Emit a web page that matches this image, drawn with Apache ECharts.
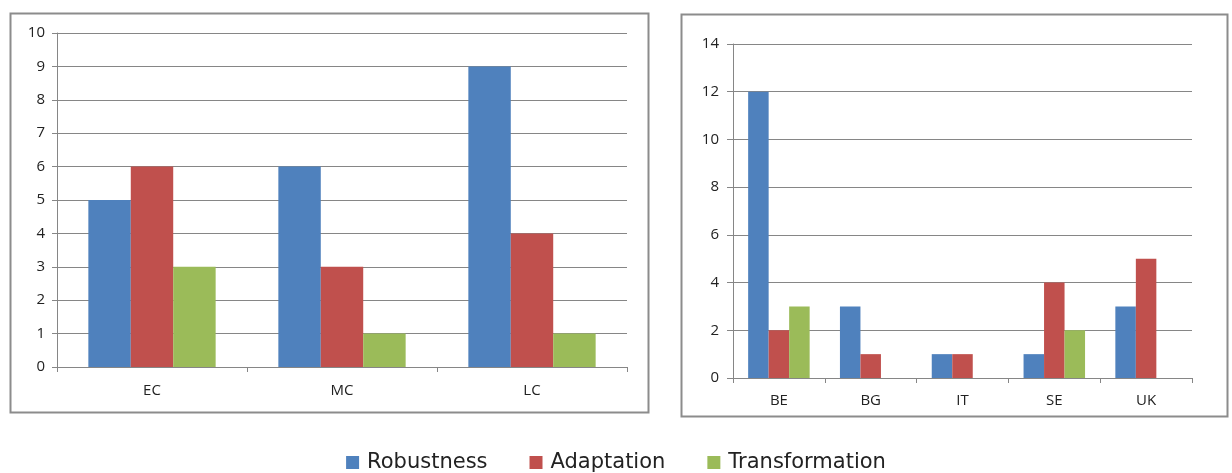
<!DOCTYPE html>
<html>
<head>
<meta charset="utf-8">
<script src="https://cdn.jsdelivr.net/npm/echarts@6/dist/echarts.min.js"></script>
<style>
  html, body { margin: 0; padding: 0; background: #fff; }
  #chart { width: 1232px; height: 473px; }
</style>
</head>
<body>
<div id="chart"></div>
<script>
const seriesNames = ['Robustness', 'Adaptation', 'Transformation']
const colors = ['#4F81BD', '#C0504D', '#9BBB59']

// left panel: by stage
const stageCategories = ['EC', 'MC', 'LC']
const stageRobustness = [5, 6, 9]
const stageAdaptation = [6, 3, 4]
const stageTransformation = [3, 1, 1]

// right panel: by country
const countryCategories = ['BE', 'BG', 'IT', 'SE', 'UK']
const countryRobustness = [12, 3, 1, 1, 3]
const countryAdaptation = [2, 1, 1, 4, 5]
const countryTransformation = [3, '-', '-', 2, '-']

const axisGray = '#868686'
const labelFont = { color: '#222', fontSize: 15, fontFamily: 'Open Sans' }

const chart = echarts.init(document.getElementById('chart'))

function catAxis(gridIndex, data, margin) {
  return {
    type: 'category',
    gridIndex,
    data,
    axisLine: { lineStyle: { color: axisGray } },
    axisTick: { show: true, length: 5, lineStyle: { color: axisGray } },
    axisLabel: { ...labelFont, margin }
  }
}

function valAxis(gridIndex, max, interval, tickLen, margin) {
  return {
    type: 'value',
    gridIndex,
    min: 0,
    max,
    interval,
    axisLine: { show: true, lineStyle: { color: axisGray } },
    axisTick: { show: true, length: tickLen, lineStyle: { color: axisGray } },
    axisLabel: { ...labelFont, margin },
    splitLine: { lineStyle: { color: axisGray } }
  }
}

function bars(name, data, idx, i) {
  return {
    name,
    type: 'bar',
    xAxisIndex: idx,
    yAxisIndex: idx,
    data,
    barGap: 0,
    barCategoryGap: '33%',
    itemStyle: { color: colors[i] },
    emphasis: { disabled: true }
  }
}

chart.setOption({
  animation: false,
  color: colors,
  graphic: [
    { type: 'rect', shape: { x: 10.5, y: 13.5, width: 638, height: 399 }, style: { fill: 'none', stroke: '#8c8c8c', lineWidth: 2 } },
    { type: 'rect', shape: { x: 681.5, y: 14.5, width: 546, height: 402 }, style: { fill: 'none', stroke: '#8c8c8c', lineWidth: 2 } }
  ],
  legend: {
    data: seriesNames,
    top: 447,
    left: 'center',
    icon: 'rect',
    itemWidth: 13,
    itemHeight: 13,
    itemGap: 42,
    textStyle: { color: '#222', fontSize: 21, fontFamily: 'DejaVu Sans', padding: [0, 0, 0, 3] },
    selectedMode: false
  },
  grid: [
    { left: 57, top: 33, width: 570, height: 334 },
    { left: 733, top: 44, width: 459, height: 334 }
  ],
  xAxis: [
    catAxis(0, stageCategories, 16),
    catAxis(1, countryCategories, 15)
  ],
  yAxis: [
    valAxis(0, 10, 1, 5, 12),
    valAxis(1, 14, 2, 6, 14)
  ],
  series: [
    bars('Robustness', stageRobustness, 0, 0),
    bars('Adaptation', stageAdaptation, 0, 1),
    bars('Transformation', stageTransformation, 0, 2),
    bars('Robustness', countryRobustness, 1, 0),
    bars('Adaptation', countryAdaptation, 1, 1),
    bars('Transformation', countryTransformation, 1, 2)
  ]
})
</script>
</body>
</html>
